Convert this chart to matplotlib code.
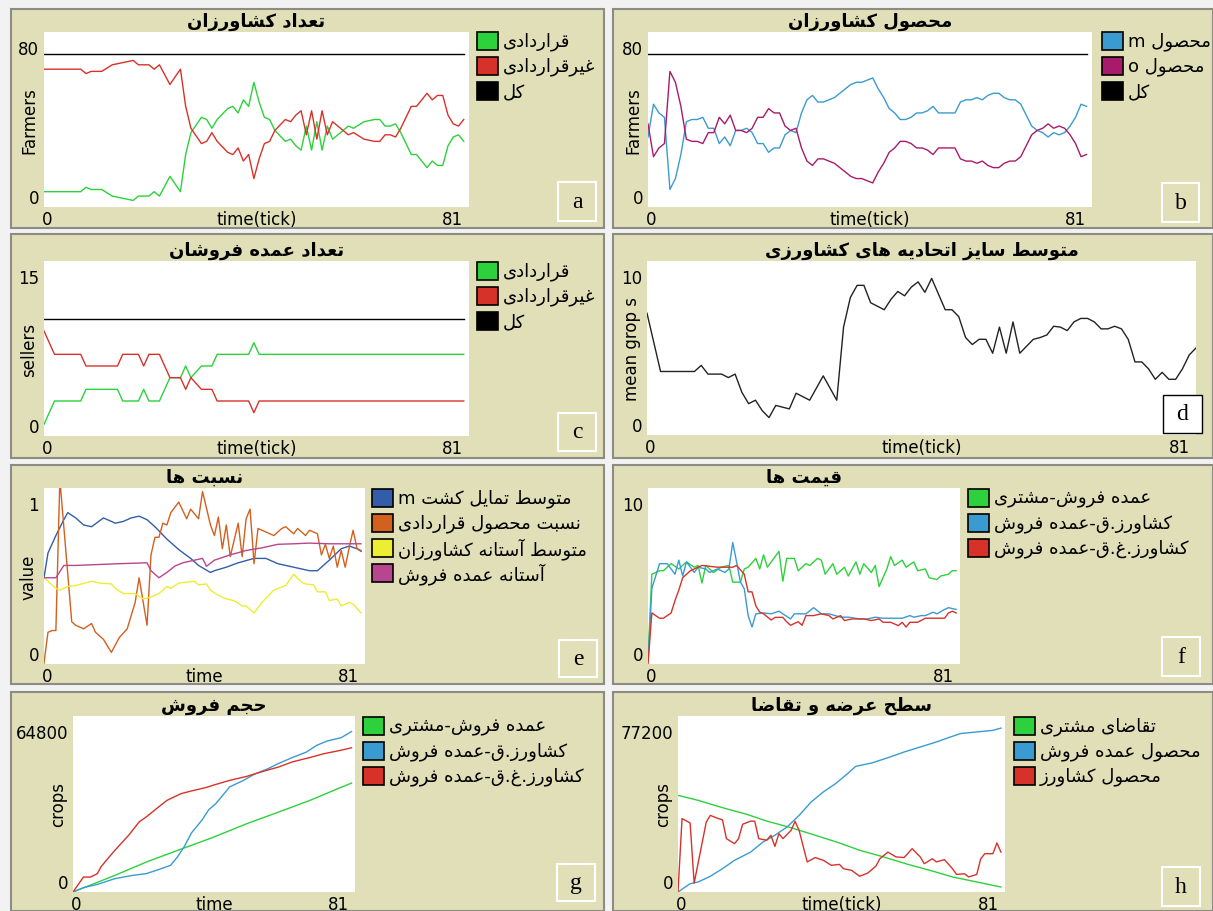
import numpy as np
import matplotlib
matplotlib.use('agg')
import matplotlib.pyplot as plt
from matplotlib.patches import Rectangle

# ---- data (ticks, values) ----
# a: farmers
a_t = [0, 7, 8, 9, 11, 13, 15, 17, 18, 20, 21, 22, 24, 26, 27, 28, 30, 31, 32, 33,
       35, 36, 37, 38, 39, 40, 41, 42, 43, 44, 46, 47, 48, 49, 50, 51, 52, 53, 54, 55,
       56, 58, 59, 61, 63, 64, 65, 66, 67, 68, 70, 71, 73, 74, 75, 76, 77, 78, 79, 80]
a_contract = [7, 7, 9, 8, 8, 5, 4, 3, 5, 5, 7, 5, 14, 7, 24, 34, 41, 40, 36, 40,
              45, 46, 43, 49, 46, 57, 48, 41, 40, 35, 30, 31, 28, 26, 37, 26, 39, 26, 37, 31,
              33, 37, 36, 39, 40, 40, 37, 37, 38, 34, 24, 24, 18, 21, 19, 19, 28, 32, 33, 30]
a_noncontract = [63, 63, 61, 62, 62, 65, 66, 67, 65, 65, 63, 65, 56, 63, 46, 36, 29, 30, 34, 30,
                 25, 24, 27, 21, 24, 13, 22, 29, 30, 35, 40, 39, 42, 44, 33, 44, 31, 44, 33, 39,
                 37, 33, 34, 31, 30, 30, 33, 33, 32, 36, 46, 46, 52, 49, 51, 51, 42, 38, 37, 40]
a_total = [70, 70]
tot_t = [0, 80]

# b: farmer crops (ticks 0..80)
b_m = [32, 47, 43, 41, 8, 13, 24, 39, 40, 40, 41, 36, 36, 29, 32, 28, 35, 35, 36, 34,
       29, 29, 25, 27, 27, 33, 35, 34, 43, 49, 51, 48, 48, 49, 50, 52, 54, 56, 57, 57,
       58, 59, 54, 50, 45, 43, 40, 40, 41, 43, 43, 44, 46, 43, 43, 43, 43, 48, 49, 49,
       50, 49, 51, 52, 52, 50, 49, 49, 47, 42, 37, 35, 34, 32, 34, 33, 34, 37, 41, 47, 46]
b_o = [38, 23, 27, 29, 62, 57, 46, 31, 30, 30, 29, 34, 34, 41, 38, 42, 35, 35, 34, 36,
       41, 41, 45, 43, 43, 37, 35, 36, 27, 21, 19, 22, 22, 21, 20, 18, 16, 14, 13, 13,
       12, 11, 16, 20, 25, 27, 30, 30, 29, 27, 27, 26, 24, 27, 27, 27, 27, 22, 21, 21,
       20, 21, 19, 18, 18, 20, 21, 21, 23, 28, 33, 35, 36, 38, 36, 37, 36, 33, 29, 23, 24]
b_total = [70, 70]

# c: sellers
c_t = [0, 2, 7, 8, 14, 15, 18, 19, 20, 22, 24, 26, 27, 28, 30, 32, 33, 39, 40, 41, 80]
c_contract = [1, 3, 3, 4, 4, 3, 3, 4, 3, 3, 5, 5, 6, 5, 6, 6, 7, 7, 8, 7, 7]
c_noncontract = [9, 7, 7, 6, 6, 7, 7, 6, 7, 7, 5, 5, 4, 5, 4, 4, 3, 3, 2, 3, 3]
c_total = [10, 10]

# d: mean group size
d_t = [0, 2, 7, 8, 9, 11, 12, 13, 14, 15, 16, 17, 18, 19, 21, 22, 24, 26, 28, 29,
       30, 31, 32, 33, 35, 36, 37, 38, 39, 40, 41, 42, 43, 44, 45, 46, 47, 48, 49, 50,
       51, 52, 53, 54, 55, 57, 58, 59, 60, 61, 62, 63, 64, 65, 66, 67, 68, 69, 70, 71,
       72, 73, 74, 75, 76, 77, 78, 79, 80, 81]
d_size = [7.0, 3.65, 3.65, 4.0, 3.5, 3.5, 3.3, 3.5, 2.45, 1.8, 2.0, 1.4, 1.0, 1.7, 1.5, 2.4, 2.0, 3.4, 2.0, 6.2,
          7.9, 8.6, 8.6, 7.6, 7.2, 7.8, 8.25, 8.0, 8.5, 8.8, 8.2, 9.0, 8.1, 7.2, 7.2, 6.8, 5.6, 5.2, 5.5, 5.5,
          4.7, 6.2, 4.7, 6.5, 4.7, 5.5, 5.6, 5.75, 6.25, 6.2, 6.0, 6.5, 6.7, 6.7, 6.5, 6.1, 6.1, 6.25, 6.1, 5.5,
          4.2, 4.2, 3.8, 3.2, 3.6, 3.2, 3.2, 3.8, 4.6, 5.0]

# e: ratios
e_m_t = [0, 1, 3, 5, 6, 8, 10, 12, 15, 18, 20, 22, 24, 26, 28, 31, 34, 37, 39, 42,
         43, 46, 49, 53, 56, 59, 63, 67, 69, 72, 75, 77, 79, 80]
e_m = [0.49, 0.63, 0.73, 0.82, 0.86, 0.83, 0.79, 0.78, 0.83, 0.80, 0.81, 0.83, 0.84, 0.82, 0.78, 0.71, 0.65, 0.60, 0.56, 0.52,
       0.53, 0.55, 0.575, 0.60, 0.60, 0.57, 0.55, 0.53, 0.53, 0.59, 0.655, 0.67, 0.655, 0.64]
e_share_t = [0, 1, 2, 3, 4, 7, 8, 10, 12, 13, 15, 17, 19, 21, 23, 24, 26, 27, 28, 29,
             30, 31, 32, 34, 36, 37, 39, 40, 42, 43, 44, 45, 46, 47, 49, 50, 51, 52, 53, 54,
             56, 58, 60, 61, 63, 64, 66, 67, 69, 70, 71, 72, 73, 74, 75, 76, 77, 78, 79, 80]
e_share = [0.005, 0.18, 0.19, 0.19, 1.05, 0.24, 0.22, 0.20, 0.23, 0.18, 0.14, 0.066, 0.15, 0.20, 0.35, 0.49, 0.22, 0.62, 0.72, 0.72,
           0.80, 0.79, 0.86, 0.92, 0.825, 0.88, 0.825, 0.98, 0.79, 0.73, 0.835, 0.655, 0.79, 0.61, 0.80, 0.61, 0.825, 0.88, 0.57, 0.77,
           0.75, 0.73, 0.77, 0.78, 0.74, 0.77, 0.73, 0.76, 0.74, 0.62, 0.68, 0.60, 0.67, 0.55, 0.645, 0.55, 0.66, 0.76, 0.655, 0.645]
e_farm_t = [0, 3, 4, 6, 8, 12, 14, 17, 18, 20, 23, 25, 27, 29, 31, 32, 34, 36, 38, 39,
            41, 42, 44, 46, 48, 50, 51, 53, 55, 58, 61, 63, 65, 66, 68, 69, 71, 72, 74, 75,
            77, 78, 80]
e_farm = [0.49, 0.43, 0.42, 0.44, 0.446, 0.47, 0.46, 0.455, 0.43, 0.40, 0.40, 0.37, 0.38, 0.40, 0.44, 0.43, 0.46, 0.465, 0.47, 0.45,
          0.455, 0.42, 0.39, 0.37, 0.36, 0.33, 0.33, 0.29, 0.35, 0.42, 0.446, 0.51, 0.465, 0.455, 0.45, 0.41, 0.41, 0.36, 0.37, 0.33,
          0.35, 0.34, 0.29]
e_sell_t = [0, 3, 5, 8, 19, 26, 27, 29, 31, 33, 35, 38, 40, 41, 43, 47, 51, 55, 59, 63, 67, 72, 77, 80]
e_sell = [0.49, 0.49, 0.56, 0.56, 0.57, 0.575, 0.53, 0.49, 0.52, 0.556, 0.575, 0.59, 0.60, 0.555, 0.59, 0.62,
          0.645, 0.66, 0.68, 0.683, 0.687, 0.683, 0.683, 0.683]

# f: prices
f_g_t = [0, 1, 3, 4, 6, 8, 10, 12, 13, 14, 15, 17, 19, 21, 22, 24, 25, 26, 28, 29,
         30, 31, 33, 34, 35, 36, 38, 39, 41, 42, 44, 45, 46, 48, 49, 51, 52, 54, 55, 56,
         58, 59, 60, 62, 63, 64, 66, 67, 69, 70, 72, 73, 75, 76, 78, 79, 80]
f_g = [0.3, 5.1, 5.3, 5.3, 5.7, 5.4, 5.8, 5.5, 5.6, 4.6, 5.6, 5.2, 5.5, 5.6, 4.65, 4.65, 5.4, 5.5, 6.0, 5.4,
       6.2, 5.5, 6.1, 6.4, 4.7, 6.0, 6.0, 5.3, 5.7, 5.6, 6.0, 5.9, 5.1, 5.7, 5.1, 5.5, 5.0, 5.8, 5.1, 5.7,
       5.2, 5.6, 4.4, 5.4, 6.1, 5.6, 5.9, 5.5, 5.8, 5.3, 5.4, 4.9, 4.8, 5.0, 5.1, 5.3, 5.3]
f_b_t = [0, 1, 3, 5, 7, 8, 9, 10, 12, 13, 15, 16, 18, 20, 21, 22, 23, 24, 25, 26,
         27, 28, 30, 32, 34, 35, 37, 38, 41, 43, 45, 47, 50, 52, 55, 57, 59, 61, 64, 66,
         68, 69, 71, 72, 74, 75, 77, 78, 80]
f_b = [0.1, 4.3, 5.7, 5.7, 5.1, 5.9, 5.0, 5.8, 5.2, 5.5, 5.4, 5.2, 5.4, 5.2, 5.4, 6.9, 5.8, 4.65, 4.27, 2.75,
       2.1, 2.85, 2.9, 2.85, 3.0, 2.85, 2.56, 2.85, 2.85, 3.2, 2.85, 2.85, 2.66, 2.66, 2.56, 2.56, 2.66, 2.6, 2.6, 2.6,
       2.75, 2.66, 2.75, 2.75, 2.94, 2.85, 3.1, 3.2, 3.1]
f_r_t = [0, 1, 3, 4, 6, 7, 8, 9, 10, 11, 14, 18, 22, 23, 25, 26, 27, 28, 29, 30,
         32, 33, 35, 36, 37, 39, 40, 41, 43, 45, 47, 48, 50, 51, 53, 56, 58, 60, 61, 63,
         65, 66, 67, 68, 70, 72, 74, 77, 78, 79, 80]
f_r = [0.0, 2.9, 2.6, 2.6, 2.9, 3.6, 4.2, 4.9, 5.1, 5.3, 5.6, 5.5, 5.5, 5.6, 5.1, 4.1, 4.1, 3.3, 2.95, 2.85,
       2.5, 2.65, 2.65, 2.4, 2.2, 2.4, 2.2, 2.75, 2.75, 2.85, 2.75, 2.56, 2.75, 2.47, 2.56, 2.56, 2.47, 2.56, 2.37, 2.37,
       2.18, 2.37, 2.1, 2.37, 2.37, 2.6, 2.6, 2.6, 2.9, 3.0, 2.9]

# g: sales volume
g_g_t = [0, 12, 21, 30, 40, 50, 59, 68, 76, 80]
g_g = [0, 6100, 11000, 15300, 20000, 25200, 29400, 33700, 38000, 40100]
g_b_t = [0, 3, 7, 12, 17, 21, 24, 28, 30, 32, 34, 37, 39, 41, 43, 45, 49, 52, 56, 59,
         63, 67, 70, 73, 77, 79, 80]
g_b = [0, 1600, 2800, 4900, 6100, 6750, 8000, 9800, 12900, 16800, 21700, 26400, 30300, 32500, 35600, 38700,
       41100, 43300, 45400, 47300, 49500, 51500, 54000, 55600, 56800, 58300, 59100]
g_r_t = [0, 3, 5, 7, 8, 10, 12, 16, 19, 21, 24, 27, 31, 34, 38, 41, 45, 50, 54, 59,
         63, 68, 72, 77, 80]
g_r = [0, 5500, 5500, 6750, 9200, 12300, 15300, 20900, 25800, 27600, 30700, 33750, 36200, 37200, 38400,
       39600, 41100, 42600, 44200, 46000, 47900, 49500, 50900, 52200, 53100]

# h: supply and demand
h_g_t = [0, 5, 11, 17, 22, 28, 34, 40, 45, 51, 57, 63, 68, 74, 78, 80]
h_g = [42400, 40200, 37000, 34100, 31100, 28200, 24900, 21500, 18300, 15350, 12100, 9200, 6600, 4400, 2900, 2200]
h_b_t = [0, 3, 5, 8, 11, 14, 18, 21, 24, 27, 30, 33, 36, 39, 42, 44, 48, 52, 56, 60,
         64, 67, 70, 74, 78, 80]
h_b = [0, 3650, 4400, 6900, 10200, 13900, 17500, 21900, 24900, 28500, 33600, 39500, 43900, 47500, 51900,
       55100, 56600, 58900, 61400, 63600, 65800, 67700, 69500, 70200, 70900, 71900]
h_r_t = [0, 1, 3, 4, 7, 8, 10, 11, 12, 14, 15, 16, 18, 19, 20, 22, 23, 24, 25, 26,
         28, 29, 30, 32, 34, 36, 38, 40, 41, 43, 45, 47, 49, 50, 52, 54, 56, 58, 60, 61,
         63, 64, 66, 68, 69, 71, 72, 74, 75, 76, 78, 79, 80]
h_r = [0, 32200, 30300, 3900, 30700, 33600, 32200, 31700, 23400, 21200, 23400, 29700, 31100, 31100, 23400,
       22700, 24900, 20000, 25600, 23400, 27000, 31000, 27000, 13200, 15100, 13900, 11700, 12100, 10200, 9500,
       6900, 8300, 11300, 14600, 17500, 15400, 15100, 19000, 15400, 12400, 14600, 13200, 14200, 10200, 7700,
       8000, 6600, 7700, 14600, 16800, 16800, 21500, 17500]

# ---- Persian text: join letters and lay out right to left ----
FORMS = {
    '\u0622': ('\uFE81', '\uFE82', None, None),
    '\u0627': ('\uFE8D', '\uFE8E', None, None),
    '\u0628': ('\uFE8F', '\uFE90', '\uFE91', '\uFE92'),
    '\u067E': ('\uFB56', '\uFB57', '\uFB58', '\uFB59'),
    '\u062A': ('\uFE95', '\uFE96', '\uFE97', '\uFE98'),
    '\u062B': ('\uFE99', '\uFE9A', '\uFE9B', '\uFE9C'),
    '\u062C': ('\uFE9D', '\uFE9E', '\uFE9F', '\uFEA0'),
    '\u0686': ('\uFB7A', '\uFB7B', '\uFB7C', '\uFB7D'),
    '\u062D': ('\uFEA1', '\uFEA2', '\uFEA3', '\uFEA4'),
    '\u062E': ('\uFEA5', '\uFEA6', '\uFEA7', '\uFEA8'),
    '\u062F': ('\uFEA9', '\uFEAA', None, None),
    '\u0630': ('\uFEAB', '\uFEAC', None, None),
    '\u0631': ('\uFEAD', '\uFEAE', None, None),
    '\u0632': ('\uFEAF', '\uFEB0', None, None),
    '\u0698': ('\uFB8A', '\uFB8B', None, None),
    '\u0633': ('\uFEB1', '\uFEB2', '\uFEB3', '\uFEB4'),
    '\u0634': ('\uFEB5', '\uFEB6', '\uFEB7', '\uFEB8'),
    '\u0635': ('\uFEB9', '\uFEBA', '\uFEBB', '\uFEBC'),
    '\u0636': ('\uFEBD', '\uFEBE', '\uFEBF', '\uFEC0'),
    '\u0637': ('\uFEC1', '\uFEC2', '\uFEC3', '\uFEC4'),
    '\u0638': ('\uFEC5', '\uFEC6', '\uFEC7', '\uFEC8'),
    '\u0639': ('\uFEC9', '\uFECA', '\uFECB', '\uFECC'),
    '\u063A': ('\uFECD', '\uFECE', '\uFECF', '\uFED0'),
    '\u0641': ('\uFED1', '\uFED2', '\uFED3', '\uFED4'),
    '\u0642': ('\uFED5', '\uFED6', '\uFED7', '\uFED8'),
    '\u0643': ('\uFED9', '\uFEDA', '\uFEDB', '\uFEDC'),
    '\u06A9': ('\uFB8E', '\uFB8F', '\uFB90', '\uFB91'),
    '\u06AF': ('\uFB92', '\uFB93', '\uFB94', '\uFB95'),
    '\u0644': ('\uFEDD', '\uFEDE', '\uFEDF', '\uFEE0'),
    '\u0645': ('\uFEE1', '\uFEE2', '\uFEE3', '\uFEE4'),
    '\u0646': ('\uFEE5', '\uFEE6', '\uFEE7', '\uFEE8'),
    '\u0648': ('\uFEED', '\uFEEE', None, None),
    '\u0647': ('\uFEE9', '\uFEEA', '\uFEEB', '\uFEEC'),
    '\u06CC': ('\uFBFC', '\uFBFD', '\uFBFE', '\uFBFF'),
    '\u064A': ('\uFBFC', '\uFBFD', '\uFBFE', '\uFBFF'),
    '\u0649': ('\uFBFC', '\uFBFD', '\uFBFE', '\uFBFF'),
}


def rtl(s):
    out = []
    for i, c in enumerate(s):
        if c not in FORMS:
            out.append(c)
            continue
        prev = s[i - 1] if i > 0 else ''
        nxt = s[i + 1] if i + 1 < len(s) else ''
        join_prev = prev in FORMS and FORMS[prev][2] is not None
        join_next = nxt in FORMS and FORMS[c][2] is not None
        iso, fin, ini, med = FORMS[c]
        if join_prev and join_next:
            out.append(med)
        elif join_prev:
            out.append(fin)
        elif join_next:
            out.append(ini)
        else:
            out.append(iso)
    return ''.join(reversed(out))


# ---- colours ----
KHAKI = '#e0dfb8'
EDGE = '#8c8c84'
LIME = '#2cd13b'
RED = '#d7322a'
SKY = '#3a9bd0'
MAG = '#a71b6a'
BLUE = '#345da9'
ORANGE = '#d2601e'
YELLOW = '#eded31'
PINK = '#b8468f'

W, H = 1213, 912
fig = plt.figure(figsize=(W / 100, H / 100), dpi=100, facecolor='#f2f2f2')
plt.rcParams['font.family'] = ['DejaVu Sans']


def fx(x):
    return x / W


def fy(y):
    return 1 - y / H


def rect(x0, y0, x1, y1, **kw):
    fig.patches.append(Rectangle((fx(x0), fy(y1)), (x1 - x0) / W, (y1 - y0) / H,
                                 transform=fig.transFigure, **kw))


def txt(x, y, s, **kw):
    fig.text(fx(x), fy(y), s, **kw)


def panel(box, plot, title, ylab, xlab, ymax, lines, legend, leg_xy, letter, lbox, dark=False):
    rect(*box, facecolor=KHAKI, edgecolor=EDGE, lw=1.5, zorder=-2)
    px0, py0, px1, py1 = plot
    ax = fig.add_axes([fx(px0), fy(py1), (px1 - px0) / W, (py1 - py0) / H], zorder=0)
    ax.set_facecolor('white')
    for sp in ax.spines.values():
        sp.set_visible(False)
    ax.set_xticks([])
    ax.set_yticks([])
    for t, v, c in lines:
        ax.plot(t, v, color=c, lw=1.0)
    ax.set_xlim(0, 81)
    ax.set_ylim(0, ymax)

    fs = 12
    txt((px0 + px1) / 2, py0 - 11, rtl(title), ha='center', va='center',
        fontsize=13, fontweight='bold')
    txt(px0 - 5, py0 + 17, f'{ymax:g}', ha='right', va='center', fontsize=fs)
    txt(px0 - 5, py1 - 9, '0', ha='right', va='center', fontsize=fs)
    txt(px0 - 2, py1 + 12, '0', ha='left', va='center', fontsize=fs)
    txt(px1 - 6, py1 + 12, '81', ha='right', va='center', fontsize=fs)
    if xlab:
        txt((px0 + px1) / 2, py1 + 12, xlab, ha='center', va='center', fontsize=fs)
    txt(px0 - 15, (py0 + py1) / 2, ylab, ha='center', va='center', rotation=90, fontsize=fs)

    if legend:
        lx, ly = leg_xy
        for i, (lab, col) in enumerate(legend):
            y = ly + i * 25
            rect(lx, y, lx + 21, y + 18, facecolor=col, edgecolor='black', lw=1.2, zorder=2)
            txt(lx + 26, y + 9, rtl(lab), ha='left', va='center', fontsize=13)

    x0, y0, x1, y1 = lbox
    if dark:
        rect(x0, y0, x1, y1, facecolor='white', edgecolor='black', lw=1.0, zorder=2)
    else:
        rect(x0, y0, x1, y1, facecolor=KHAKI, edgecolor='white', lw=1.5, zorder=2)
    txt((x0 + x1) / 2, (y0 + y1) / 2, letter, ha='center', va='center',
        fontsize=17, family='Liberation Serif')


lg_contract = [('قراردادی', LIME), ('غیرقراردادی', RED), ('کل', 'black')]
lg_prices = [('عمده فروش-مشتری', LIME), ('کشاورز.ق-عمده فروش', SKY),
             ('کشاورز.غ.ق-عمده فروش', RED)]

panel((11, 10, 604, 229), (44, 33, 469, 208), 'تعداد کشاورزان', 'Farmers', 'time(tick)', 80,
      [(a_t, a_contract, LIME), (a_t, a_noncontract, RED), (tot_t, a_total, 'black')],
      lg_contract, (477, 33), 'a', (558, 183, 596, 222))

b_t = list(range(len(b_m)))
panel((613, 10, 1213, 229), (648, 33, 1092, 208), 'محصول کشاورزان', 'Farmers', 'time(tick)', 80,
      [(b_t, b_m, SKY), (b_t, b_o, MAG), (tot_t, b_total, 'black')],
      [('محصول m', SKY), ('محصول o', MAG), ('کل', 'black')], (1102, 33), 'b', (1162, 184, 1199, 223))

panel((11, 235, 604, 459), (44, 262, 469, 437), 'تعداد عمده فروشان', 'sellers', 'time(tick)', 15,
      [(c_t, c_contract, LIME), (c_t, c_noncontract, RED), (tot_t, c_total, 'black')],
      lg_contract, (477, 263), 'c', (558, 414, 596, 452))

panel((613, 235, 1213, 459), (647, 262, 1196, 436), 'متوسط سایز اتحادیه های کشاورزی', 'mean grop s',
      'time(tick)', 10, [(d_t, d_size, '#222222')], None, None, 'd', (1163, 396, 1202, 434), dark=True)

panel((11, 466, 604, 685), (44, 489, 365, 665), 'نسبت ها', 'value', 'time', 1,
      [(e_m_t, e_m, BLUE), (e_share_t, e_share, ORANGE), (e_farm_t, e_farm, YELLOW), (e_sell_t, e_sell, PINK)],
      [('متوسط تمایل کشت m', BLUE), ('نسبت محصول قراردادی', ORANGE),
       ('متوسط آستانه کشاورزان', YELLOW), ('آستانه عمده فروش', PINK)],
      (372, 490), 'e', (559, 641, 597, 678))

panel((613, 466, 1213, 685), (648, 489, 960, 665), 'قیمت ها', '', '', 10,
      [(f_g_t, f_g, LIME), (f_b_t, f_b, SKY), (f_r_t, f_r, RED)],
      lg_prices, (968, 490), 'f', (1162, 638, 1200, 677))

panel((11, 693, 604, 912), (73, 717, 355, 893), 'حجم فروش', 'crops', 'time', 64800,
      [(g_g_t, g_g, LIME), (g_b_t, g_b, SKY), (g_r_t, g_r, RED)],
      lg_prices, (363, 718), 'g', (557, 865, 595, 902))

panel((613, 693, 1213, 912), (678, 717, 1005, 893), 'سطح عرضه و تقاضا', 'crops', 'time(tick)', 77200,
      [(h_g_t, h_g, LIME), (h_b_t, h_b, SKY), (h_r_t, h_r, RED)],
      [('تقاضای مشتری', LIME), ('محصول عمده فروش', SKY), ('محصول کشاورز', RED)],
      (1014, 718), 'h', (1162, 868, 1200, 907))

plt.savefig('out.png', dpi=100, facecolor=fig.get_facecolor())
